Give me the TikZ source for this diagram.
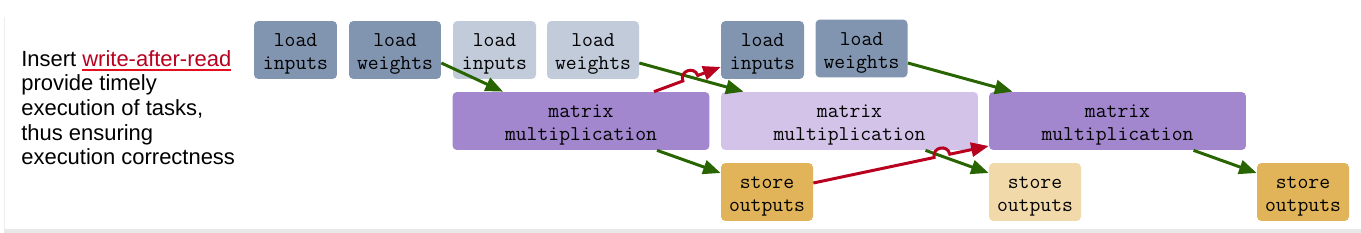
\documentclass[tikz,border=0pt]{standalone}
\usepackage{fontspec}
\setmainfont{Liberation Sans}
\usetikzlibrary{arrows.meta, positioning, calc}
\definecolor{loaddark}{HTML}{8195B0}
\definecolor{loadlight}{HTML}{C2CBDA}
\definecolor{mmdark}{HTML}{A286CE}
\definecolor{mmlight}{HTML}{D3C3E9}
\definecolor{storedark}{HTML}{E1B45A}
\definecolor{storelight}{HTML}{F1D9AA}
\definecolor{depgreen}{HTML}{286400}
\definecolor{warred}{HTML}{B8001F}
\definecolor{warline}{HTML}{E3101F}
\newcommand{\warmark}[1]{%
  \setbox0\hbox{\textcolor{warred}{#1}}%
  \rlap{\color{warline}\rule[-2.8pt]{\wd0}{1.3pt}}\box0}
\newcommand{\task}[2]{\rule{0pt}{12pt}#1\\#2}

\begin{document}
\begin{tikzpicture}[x=0.02cm, y=-0.02cm,
    taskbox/.style={rounded corners=2.5pt, minimum height=1.16cm, inner sep=0pt,
      align=center, font=\ttfamily\fontsize{12}{13.1}\selectfont},
    inbox/.style={taskbox, minimum width=1.66cm},
    wbox/.style={taskbox, minimum width=1.84cm},
    mmbox/.style={taskbox, minimum width=5.14cm},
    stbox/.style={taskbox, minimum width=1.84cm},
    dep/.style={depgreen, line width=1.7pt, -{Triangle[length=10pt, width=8pt]}},
    war/.style={warred, line width=1.7pt, -{Triangle[length=10pt, width=8pt]}}]
  \useasboundingbox (0,0) rectangle (1361,233);
  % frame shadow
  \fill[black!9] (4,229) rectangle (1361,233);
  \draw[black!7, line width=0.6pt] (4.5,17) -- (4.5,229);

  \node[anchor=north west, align=left, inner sep=0pt,
    font=\fontsize{12.5}{14}\selectfont] (note) at (21,50)
    {Insert \warmark{write-after-read}\\provide timely\\execution of tasks,\\
     thus ensuring\\execution correctness};

  % first step
  \node[inbox, fill=loaddark] (li1) at (295.5,50) {\task{load}{inputs}};
  \node[wbox, fill=loaddark] (lw1) at (395,50) {\task{load}{weights}};
  \node[mmbox, fill=mmdark] (mm1) at (581,121) {\task{matrix}{multiplication}};
  \node[stbox, fill=storedark] (st1) at (767,192) {\task{store}{outputs}};
  % second step
  \node[inbox, fill=loadlight] (li2) at (494.5,50) {\task{load}{inputs}};
  \node[wbox, fill=loadlight] (lw2) at (593,50) {\task{load}{weights}};
  \node[mmbox, fill=mmlight] (mm2) at (849.5,121) {\task{matrix}{multiplication}};
  \node[stbox, fill=storelight] (st2) at (1035,192) {\task{store}{outputs}};
  % third step
  \node[inbox, fill=loaddark] (li3) at (762.5,50) {\task{load}{inputs}};
  \node[wbox, fill=loaddark] (lw3) at (861.5,48.5) {\task{load}{weights}};
  \node[mmbox, fill=mmdark] (mm3) at (1117.5,121) {\task{matrix}{multiplication}};
  \node[stbox, fill=storedark] (st3) at (1303,192) {\task{store}{outputs}};

  \draw[dep] ($(lw1.east)+(0,13)$) -- ($(mm1.north)+(-78,0)$);
  \draw[dep] ($(lw2.east)+(0,13)$) -- ($(mm2.north)+(-106,0)$);
  \draw[dep] ($(lw3.east)+(0,14.5)$) -- ($(mm3.north)+(-105,0)$);
  \draw[dep] ($(mm1.south)+(76,0)$) -- ($(st1.west)+(0,-19)$);
  \draw[dep] ($(mm2.south)+(76,0)$) -- ($(st2.west)+(0,-19)$);
  \draw[dep] ($(mm3.south)+(76,0)$) -- ($(st3.west)+(0,-19)$);

  % write-after-read, hopping over the green lines
  \coordinate (wa1) at ($(mm1.north)+(73,0)$);
  \coordinate (wb1) at ($(li3.west)+(0,17)$);
  \draw[war] (wa1) -- ($(wa1)!0.433!(wb1)$)
    to[bend left=90, looseness=1.7] ($(wa1)!0.657!(wb1)$) -- (wb1);
  \coordinate (wa2) at ($(st1.east)+(0,-9)$);
  \coordinate (wb2) at ($(mm3.west)+(0,25)$);
  \draw[war] (wa2) -- ($(wa2)!0.689!(wb2)$)
    to[bend left=90, looseness=1.7] ($(wa2)!0.778!(wb2)$) -- (wb2);
\end{tikzpicture}
\end{document}
